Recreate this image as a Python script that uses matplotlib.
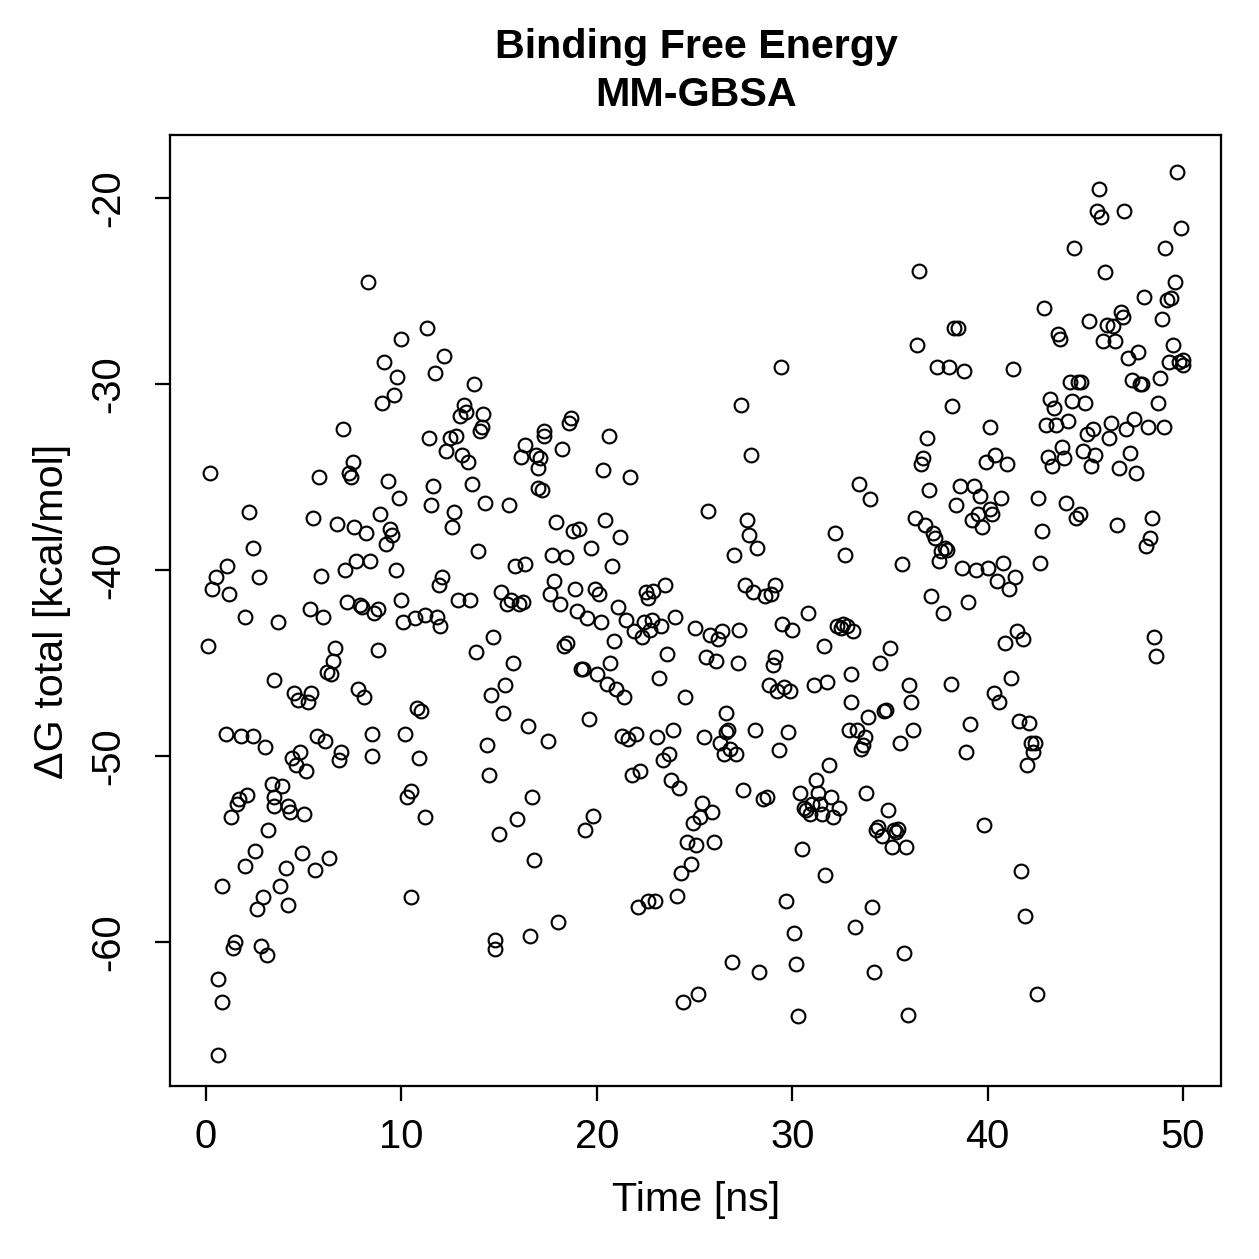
import matplotlib
matplotlib.use("Agg")
import matplotlib.pyplot as plt

# Tiempo [ns] y energía libre de unión (MM-GBSA)
time_ns = [
    0.1, 0.2, 0.3, 0.5, 0.6, 0.6, 0.8, 0.8, 1.0, 1.1, 1.2, 1.3, 1.4, 1.5, 1.6, 1.7, 1.8, 2.0, 2.0, 2.1,
    2.2, 2.4, 2.4, 2.5, 2.6, 2.7, 2.8, 2.9, 3.0, 3.1, 3.2, 3.4, 3.5, 3.5, 3.5, 3.7, 3.8, 3.9, 4.1, 4.2,
    4.2, 4.3, 4.4, 4.5, 4.6, 4.7, 4.8, 4.9, 5.0, 5.1, 5.2, 5.3, 5.4, 5.5, 5.6, 5.7, 5.8, 5.9, 6.0, 6.1,
    6.2, 6.3, 6.4, 6.5, 6.6, 6.7, 6.8, 6.9, 7.0, 7.1, 7.2, 7.3, 7.4, 7.5, 7.6, 7.7, 7.8, 7.9, 8.0, 8.1,
    8.2, 8.3, 8.4, 8.5, 8.5, 8.6, 8.8, 8.8, 8.9, 9.0, 9.1, 9.2, 9.3, 9.4, 9.5, 9.6, 9.7, 9.8, 9.9, 10.0,
    10.0, 10.1, 10.2, 10.3, 10.5, 10.5, 10.7, 10.8, 10.9, 11.0, 11.2, 11.2, 11.3, 11.4, 11.5, 11.6, 11.7, 11.8, 11.9, 12.0,
    12.1, 12.2, 12.3, 12.5, 12.6, 12.7, 12.8, 12.9, 13.0, 13.1, 13.2, 13.3, 13.4, 13.5, 13.6, 13.7, 13.8, 13.9, 14.0, 14.1,
    14.2, 14.3, 14.4, 14.5, 14.6, 14.7, 14.8, 14.8, 15.0, 15.1, 15.2, 15.3, 15.4, 15.5, 15.6, 15.7, 15.8, 15.9, 16.0, 16.1,
    16.2, 16.3, 16.3, 16.5, 16.6, 16.7, 16.8, 16.9, 17.0, 17.0, 17.1, 17.2, 17.3, 17.3, 17.5, 17.6, 17.7, 17.8, 17.9, 18.0,
    18.1, 18.2, 18.3, 18.4, 18.5, 18.6, 18.7, 18.8, 18.9, 19.0, 19.1, 19.2, 19.3, 19.4, 19.5, 19.6, 19.7, 19.8, 19.9, 20.0,
    20.1, 20.2, 20.3, 20.4, 20.5, 20.6, 20.7, 20.8, 20.9, 21.0, 21.1, 21.2, 21.3, 21.4, 21.5, 21.6, 21.7, 21.8, 21.9, 22.0,
    22.1, 22.2, 22.3, 22.4, 22.5, 22.6, 22.6, 22.7, 22.8, 22.9, 23.0, 23.1, 23.2, 23.3, 23.4, 23.5, 23.6, 23.7, 23.8, 23.9,
    24.0, 24.1, 24.2, 24.3, 24.4, 24.5, 24.6, 24.8, 24.9, 25.0, 25.1, 25.2, 25.3, 25.4, 25.5, 25.6, 25.7, 25.8, 25.9, 26.0,
    26.1, 26.2, 26.3, 26.4, 26.5, 26.6, 26.6, 26.7, 26.8, 26.9, 27.0, 27.1, 27.2, 27.3, 27.4, 27.5, 27.6, 27.7, 27.8, 27.9,
    28.0, 28.1, 28.2, 28.3, 28.5, 28.6, 28.7, 28.8, 28.9, 29.0, 29.1, 29.1, 29.2, 29.3, 29.4, 29.5, 29.6, 29.7, 29.8, 29.9,
    30.0, 30.1, 30.2, 30.3, 30.4, 30.5, 30.6, 30.7, 30.8, 30.9, 31.0, 31.1, 31.2, 31.3, 31.4, 31.5, 31.6, 31.7, 31.8, 31.9,
    32.0, 32.1, 32.2, 32.3, 32.4, 32.5, 32.6, 32.7, 32.8, 32.9, 33.0, 33.0, 33.1, 33.2, 33.3, 33.4, 33.5, 33.6, 33.7, 33.8,
    33.9, 34.0, 34.1, 34.2, 34.3, 34.4, 34.5, 34.6, 34.7, 34.8, 34.9, 35.0, 35.1, 35.2, 35.3, 35.4, 35.5, 35.6, 35.7, 35.8,
    35.9, 36.0, 36.1, 36.2, 36.3, 36.4, 36.5, 36.6, 36.7, 36.8, 36.9, 37.0, 37.1, 37.2, 37.3, 37.4, 37.5, 37.6, 37.7, 37.8,
    37.9, 38.0, 38.1, 38.2, 38.3, 38.4, 38.5, 38.6, 38.7, 38.8, 38.9, 39.0, 39.1, 39.2, 39.3, 39.4, 39.5, 39.6, 39.7, 39.8,
    39.9, 40.0, 40.1, 40.1, 40.2, 40.3, 40.4, 40.5, 40.6, 40.7, 40.8, 40.9, 41.0, 41.1, 41.2, 41.3, 41.4, 41.5, 41.6, 41.7,
    41.8, 41.9, 42.0, 42.1, 42.2, 42.3, 42.4, 42.5, 42.6, 42.7, 42.8, 42.9, 43.0, 43.1, 43.2, 43.3, 43.4, 43.5, 43.6, 43.7,
    43.8, 43.9, 44.0, 44.1, 44.2, 44.3, 44.4, 44.5, 44.6, 44.7, 44.8, 44.9, 45.0, 45.1, 45.2, 45.3, 45.4, 45.5, 45.6, 45.7,
    45.8, 45.9, 46.0, 46.1, 46.2, 46.3, 46.4, 46.5, 46.6, 46.7, 46.8, 46.9, 47.0, 47.1, 47.2, 47.3, 47.4, 47.5, 47.6, 47.7,
    47.8, 47.9, 48.0, 48.1, 48.2, 48.3, 48.4, 48.5, 48.6, 48.7, 48.8, 48.9, 49.0, 49.1, 49.2, 49.3, 49.4, 49.5, 49.6, 49.7,
    49.8, 49.9, 50.0, 50.0,
]

dg_total = [
    -44.1, -34.8, -41.0, -40.4, -62.0, -66.1, -63.2, -57.0, -48.8, -39.8, -41.3, -53.3, -60.3, -60.0, -52.6, -52.3, -48.9, -42.5, -55.9, -52.1,
    -36.9, -38.8, -48.9, -55.1, -58.2, -40.4, -60.2, -57.6, -49.5, -60.7, -54.0, -51.5, -52.2, -52.7, -45.9, -42.8, -57.0, -51.6, -56.0, -58.0,
    -52.7, -53.0, -50.1, -46.6, -50.5, -47.0, -49.8, -55.2, -53.1, -50.8, -47.1, -42.1, -46.6, -37.2, -56.1, -48.9, -35.0, -40.3, -42.5, -49.2,
    -45.5, -55.5, -45.6, -44.9, -44.2, -37.5, -50.2, -49.8, -32.4, -40.0, -41.7, -34.8, -35.0, -34.2, -37.7, -39.5, -46.4, -41.9, -42.0, -46.8,
    -38.0, -24.5, -39.5, -50.0, -48.8, -42.3, -44.3, -42.1, -37.0, -31.0, -28.8, -38.6, -35.2, -37.8, -38.1, -30.6, -40.0, -29.6, -36.1, -27.6,
    -41.6, -42.8, -48.8, -52.2, -57.6, -51.9, -42.6, -47.4, -50.1, -47.6, -53.3, -42.4, -27.0, -32.9, -36.5, -35.5, -29.4, -42.5, -40.8, -43.0,
    -40.4, -28.5, -33.6, -32.9, -37.7, -36.9, -32.8, -41.6, -31.7, -33.8, -31.1, -31.5, -34.2, -41.6, -35.4, -30.0, -44.4, -39.0, -32.5, -32.3,
    -31.6, -36.4, -49.4, -51.0, -46.7, -43.6, -59.9, -60.4, -54.2, -41.2, -47.7, -46.2, -41.8, -36.5, -41.6, -45.0, -39.8, -53.4, -41.8, -33.9,
    -41.7, -39.7, -33.3, -48.4, -59.7, -52.2, -55.6, -33.8, -35.6, -34.5, -34.0, -35.7, -32.8, -32.5, -49.2, -41.3, -39.2, -40.6, -37.4, -58.9,
    -41.8, -33.5, -44.1, -39.3, -43.9, -32.1, -31.8, -37.9, -41.0, -42.2, -37.8, -45.3, -45.3, -54.0, -42.6, -48.0, -38.8, -53.2, -41.0, -45.6,
    -41.3, -42.8, -34.6, -37.3, -46.1, -32.8, -45.0, -39.8, -43.8, -46.4, -42.0, -38.2, -48.9, -46.8, -42.7, -49.1, -35.0, -51.0, -43.3, -48.8,
    -58.1, -50.8, -43.6, -42.8, -41.2, -57.8, -41.5, -43.2, -42.7, -41.1, -57.8, -49.0, -45.8, -43.0, -50.2, -40.8, -44.5, -49.9, -51.3, -48.6,
    -42.5, -57.5, -51.7, -56.3, -63.2, -46.8, -54.6, -55.8, -53.6, -43.1, -54.8, -62.8, -53.3, -52.5, -49.0, -44.7, -36.8, -43.5, -53.0, -54.6,
    -44.9, -43.7, -49.3, -43.3, -49.9, -48.7, -47.7, -48.6, -49.6, -61.1, -39.2, -49.9, -45.0, -43.2, -31.1, -51.8, -40.8, -37.3, -38.1, -33.8,
    -41.2, -48.6, -38.8, -61.6, -52.3, -41.4, -52.2, -46.2, -41.3, -45.1, -44.7, -40.8, -46.5, -49.7, -29.1, -42.9, -46.3, -57.8, -48.7, -46.5,
    -43.2, -59.5, -61.2, -64.0, -52.0, -55.0, -52.8, -52.9, -42.3, -53.1, -52.6, -46.2, -51.3, -52.0, -52.6, -53.1, -44.1, -56.4, -46.0, -50.5,
    -52.2, -53.3, -38.0, -43.0, -52.8, -43.1, -42.9, -39.2, -43.0, -48.6, -45.6, -47.1, -43.3, -59.2, -48.6, -35.4, -49.6, -49.4, -49.0, -52.0,
    -47.9, -36.2, -58.1, -61.6, -54.0, -53.8, -45.0, -54.3, -47.6, -47.5, -52.9, -44.2, -54.9, -54.0, -54.1, -53.9, -49.3, -39.7, -60.6, -54.9,
    -63.9, -46.2, -47.1, -48.6, -37.2, -27.9, -23.9, -34.3, -34.0, -37.6, -32.9, -35.7, -41.4, -38.0, -38.3, -29.1, -39.5, -39.0, -42.3, -38.8,
    -38.9, -29.1, -46.1, -31.2, -27.0, -36.5, -27.0, -35.5, -39.9, -29.3, -49.8, -41.7, -48.3, -37.3, -35.5, -40.0, -37.0, -36.0, -37.7, -53.7,
    -34.2, -39.9, -36.7, -32.3, -37.0, -46.6, -33.8, -40.6, -47.1, -36.1, -39.6, -43.9, -34.3, -41.0, -45.8, -29.2, -40.4, -43.3, -48.1, -56.2,
    -43.7, -58.6, -50.5, -48.2, -49.3, -49.8, -49.3, -62.8, -36.1, -39.6, -37.9, -25.9, -32.2, -33.9, -30.8, -34.4, -31.3, -32.2, -27.3, -27.6,
    -33.4, -34.0, -36.4, -32.0, -29.9, -30.9, -22.7, -37.2, -29.9, -37.0, -29.9, -33.6, -31.0, -32.7, -26.6, -34.4, -32.4, -33.8, -20.7, -19.5,
    -21.0, -27.7, -24.0, -26.8, -32.9, -32.1, -26.9, -27.7, -37.6, -34.5, -26.1, -26.4, -20.7, -32.4, -28.6, -33.7, -29.8, -31.9, -34.8, -28.3,
    -30.0, -30.0, -25.3, -38.7, -32.3, -38.3, -37.2, -43.6, -44.6, -31.0, -29.7, -26.5, -32.3, -22.7, -25.5, -28.8, -25.4, -27.9, -24.5, -18.6,
    -28.8, -21.6, -29.0, -28.7,
]

x_ticks = [0, 10, 20, 30, 40, 50]
y_ticks = [-60, -50, -40, -30, -20]

plt.rcParams["font.family"] = ["Liberation Sans", "DejaVu Sans"]

W = 1259
fig = plt.figure(figsize=(W / 180, W / 180), dpi=180)
ax = fig.add_axes([170 / W, 1 - 1086 / W, (1221 - 170) / W, (1086 - 135) / W])

# Puntos (círculos abiertos, estilo R)
ax.plot(time_ns, dg_total, linestyle="none", marker="o", markersize=5.5,
        markerfacecolor="none", markeredgecolor="black", markeredgewidth=0.85)

# Settings
ax.set_xlim(-1.84, 51.94)
ax.set_ylim(-67.74, -16.61)
ax.set_xticks(x_ticks)
ax.set_yticks(y_ticks)
ax.set_xticklabels([str(t) for t in x_ticks], fontsize=16)
ax.set_yticklabels([str(t) for t in y_ticks], fontsize=16, rotation=90, va="center")
ax.tick_params(direction="out", length=6, width=0.9)
ax.tick_params(axis="x", pad=7)
ax.tick_params(axis="y", pad=11)
for s in ax.spines.values():
    s.set_linewidth(0.9)

fig.text(696 / W, 1 - 1200 / W, "Time [ns]", ha="center", va="center", fontsize=16.5)
fig.text(52 / W, 1 - 611 / W, "ΔG total [kcal/mol]", ha="center", va="center",
         rotation=90, fontsize=16.5)
fig.text(696 / W, 1 - 47 / W, "Binding Free Energy", ha="center", va="center",
         fontsize=16.5, fontweight="bold")
fig.text(696 / W, 1 - 95 / W, "MM-GBSA", ha="center", va="center",
         fontsize=16.5, fontweight="bold")

fig.savefig("out.png", dpi=180)
plt.close(fig)
